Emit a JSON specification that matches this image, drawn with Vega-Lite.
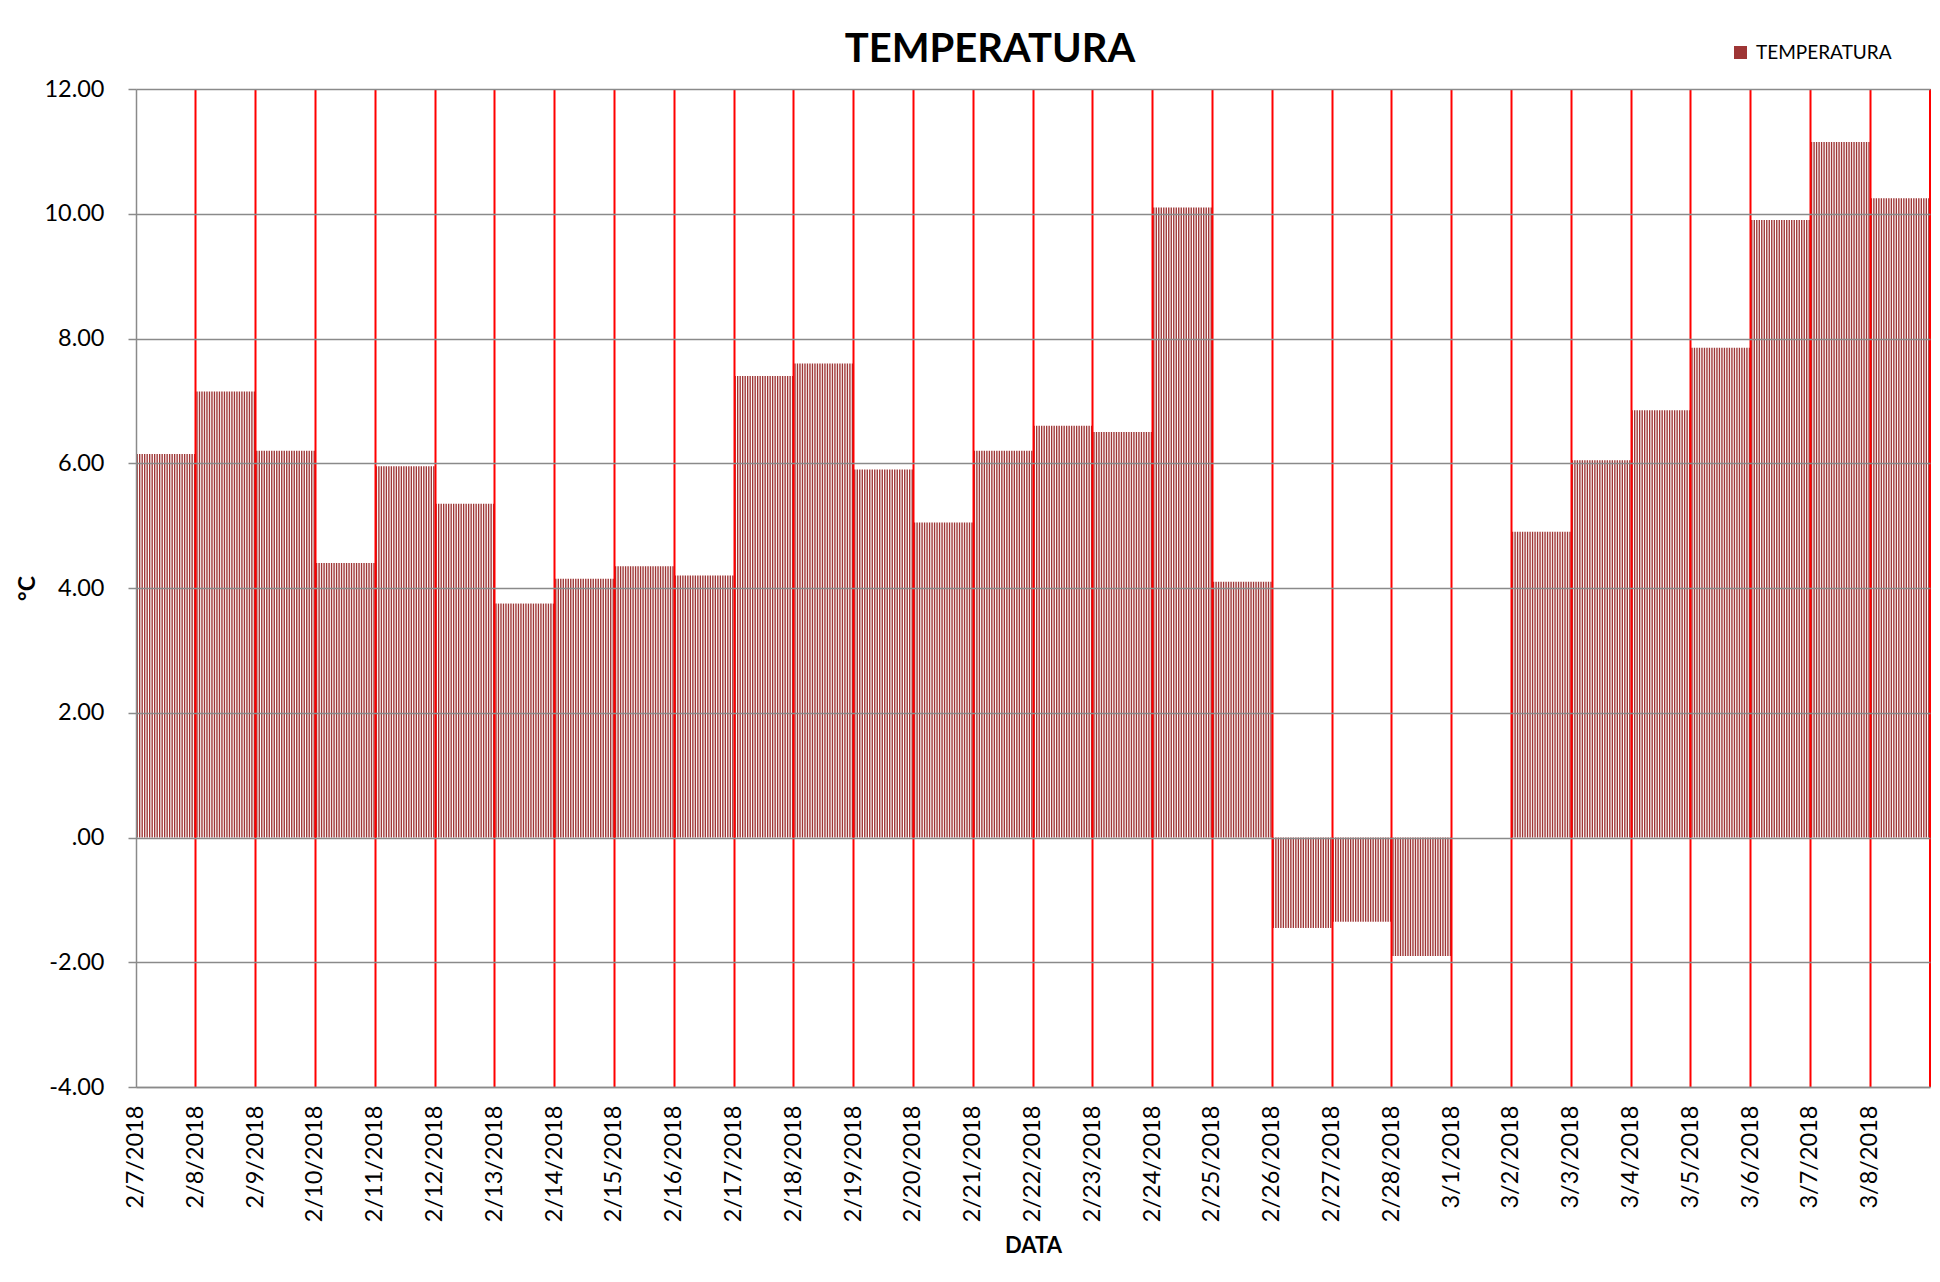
{
"$schema":"https://vega.github.io/schema/vega-lite/v6.json",
"width":1794,"height":998,
"autosize":{"type":"none"},
"padding":{"left":136,"top":89,"right":10,"bottom":195},
"background":"white",
"config":{"font":"Lato","view":{"stroke":null}},
"title":{"text":"TEMPERATURA","font":"Lato","fontSize":40,"fontWeight":"bold","color":"black","anchor":"middle","dx":-43,"offset":-27},
"layer":[
{"data":{"values":[
{"d":"2/7/2018","h":0,"t":6.15},{"d":"2/7/2018","h":1,"t":6.15},{"d":"2/7/2018","h":2,"t":6.15},{"d":"2/7/2018","h":3,"t":6.15},{"d":"2/7/2018","h":4,"t":6.15},{"d":"2/7/2018","h":5,"t":6.15},{"d":"2/7/2018","h":6,"t":6.15},{"d":"2/7/2018","h":7,"t":6.15},{"d":"2/7/2018","h":8,"t":6.15},{"d":"2/7/2018","h":9,"t":6.15},{"d":"2/7/2018","h":10,"t":6.15},{"d":"2/7/2018","h":11,"t":6.15},{"d":"2/7/2018","h":12,"t":6.15},{"d":"2/7/2018","h":13,"t":6.15},{"d":"2/7/2018","h":14,"t":6.15},{"d":"2/7/2018","h":15,"t":6.15},{"d":"2/7/2018","h":16,"t":6.15},{"d":"2/7/2018","h":17,"t":6.15},{"d":"2/7/2018","h":18,"t":6.15},{"d":"2/7/2018","h":19,"t":6.15},{"d":"2/7/2018","h":20,"t":6.15},{"d":"2/7/2018","h":21,"t":6.15},{"d":"2/7/2018","h":22,"t":6.15},{"d":"2/7/2018","h":23,"t":6.15},
{"d":"2/8/2018","h":0,"t":7.15},{"d":"2/8/2018","h":1,"t":7.15},{"d":"2/8/2018","h":2,"t":7.15},{"d":"2/8/2018","h":3,"t":7.15},{"d":"2/8/2018","h":4,"t":7.15},{"d":"2/8/2018","h":5,"t":7.15},{"d":"2/8/2018","h":6,"t":7.15},{"d":"2/8/2018","h":7,"t":7.15},{"d":"2/8/2018","h":8,"t":7.15},{"d":"2/8/2018","h":9,"t":7.15},{"d":"2/8/2018","h":10,"t":7.15},{"d":"2/8/2018","h":11,"t":7.15},{"d":"2/8/2018","h":12,"t":7.15},{"d":"2/8/2018","h":13,"t":7.15},{"d":"2/8/2018","h":14,"t":7.15},{"d":"2/8/2018","h":15,"t":7.15},{"d":"2/8/2018","h":16,"t":7.15},{"d":"2/8/2018","h":17,"t":7.15},{"d":"2/8/2018","h":18,"t":7.15},{"d":"2/8/2018","h":19,"t":7.15},{"d":"2/8/2018","h":20,"t":7.15},{"d":"2/8/2018","h":21,"t":7.15},{"d":"2/8/2018","h":22,"t":7.15},{"d":"2/8/2018","h":23,"t":7.15},
{"d":"2/9/2018","h":0,"t":6.2},{"d":"2/9/2018","h":1,"t":6.2},{"d":"2/9/2018","h":2,"t":6.2},{"d":"2/9/2018","h":3,"t":6.2},{"d":"2/9/2018","h":4,"t":6.2},{"d":"2/9/2018","h":5,"t":6.2},{"d":"2/9/2018","h":6,"t":6.2},{"d":"2/9/2018","h":7,"t":6.2},{"d":"2/9/2018","h":8,"t":6.2},{"d":"2/9/2018","h":9,"t":6.2},{"d":"2/9/2018","h":10,"t":6.2},{"d":"2/9/2018","h":11,"t":6.2},{"d":"2/9/2018","h":12,"t":6.2},{"d":"2/9/2018","h":13,"t":6.2},{"d":"2/9/2018","h":14,"t":6.2},{"d":"2/9/2018","h":15,"t":6.2},{"d":"2/9/2018","h":16,"t":6.2},{"d":"2/9/2018","h":17,"t":6.2},{"d":"2/9/2018","h":18,"t":6.2},{"d":"2/9/2018","h":19,"t":6.2},{"d":"2/9/2018","h":20,"t":6.2},{"d":"2/9/2018","h":21,"t":6.2},{"d":"2/9/2018","h":22,"t":6.2},{"d":"2/9/2018","h":23,"t":6.2},
{"d":"2/10/2018","h":0,"t":4.4},{"d":"2/10/2018","h":1,"t":4.4},{"d":"2/10/2018","h":2,"t":4.4},{"d":"2/10/2018","h":3,"t":4.4},{"d":"2/10/2018","h":4,"t":4.4},{"d":"2/10/2018","h":5,"t":4.4},{"d":"2/10/2018","h":6,"t":4.4},{"d":"2/10/2018","h":7,"t":4.4},{"d":"2/10/2018","h":8,"t":4.4},{"d":"2/10/2018","h":9,"t":4.4},{"d":"2/10/2018","h":10,"t":4.4},{"d":"2/10/2018","h":11,"t":4.4},{"d":"2/10/2018","h":12,"t":4.4},{"d":"2/10/2018","h":13,"t":4.4},{"d":"2/10/2018","h":14,"t":4.4},{"d":"2/10/2018","h":15,"t":4.4},{"d":"2/10/2018","h":16,"t":4.4},{"d":"2/10/2018","h":17,"t":4.4},{"d":"2/10/2018","h":18,"t":4.4},{"d":"2/10/2018","h":19,"t":4.4},{"d":"2/10/2018","h":20,"t":4.4},{"d":"2/10/2018","h":21,"t":4.4},{"d":"2/10/2018","h":22,"t":4.4},{"d":"2/10/2018","h":23,"t":4.4},
{"d":"2/11/2018","h":0,"t":5.95},{"d":"2/11/2018","h":1,"t":5.95},{"d":"2/11/2018","h":2,"t":5.95},{"d":"2/11/2018","h":3,"t":5.95},{"d":"2/11/2018","h":4,"t":5.95},{"d":"2/11/2018","h":5,"t":5.95},{"d":"2/11/2018","h":6,"t":5.95},{"d":"2/11/2018","h":7,"t":5.95},{"d":"2/11/2018","h":8,"t":5.95},{"d":"2/11/2018","h":9,"t":5.95},{"d":"2/11/2018","h":10,"t":5.95},{"d":"2/11/2018","h":11,"t":5.95},{"d":"2/11/2018","h":12,"t":5.95},{"d":"2/11/2018","h":13,"t":5.95},{"d":"2/11/2018","h":14,"t":5.95},{"d":"2/11/2018","h":15,"t":5.95},{"d":"2/11/2018","h":16,"t":5.95},{"d":"2/11/2018","h":17,"t":5.95},{"d":"2/11/2018","h":18,"t":5.95},{"d":"2/11/2018","h":19,"t":5.95},{"d":"2/11/2018","h":20,"t":5.95},{"d":"2/11/2018","h":21,"t":5.95},{"d":"2/11/2018","h":22,"t":5.95},{"d":"2/11/2018","h":23,"t":5.95},
{"d":"2/12/2018","h":0,"t":5.35},{"d":"2/12/2018","h":1,"t":5.35},{"d":"2/12/2018","h":2,"t":5.35},{"d":"2/12/2018","h":3,"t":5.35},{"d":"2/12/2018","h":4,"t":5.35},{"d":"2/12/2018","h":5,"t":5.35},{"d":"2/12/2018","h":6,"t":5.35},{"d":"2/12/2018","h":7,"t":5.35},{"d":"2/12/2018","h":8,"t":5.35},{"d":"2/12/2018","h":9,"t":5.35},{"d":"2/12/2018","h":10,"t":5.35},{"d":"2/12/2018","h":11,"t":5.35},{"d":"2/12/2018","h":12,"t":5.35},{"d":"2/12/2018","h":13,"t":5.35},{"d":"2/12/2018","h":14,"t":5.35},{"d":"2/12/2018","h":15,"t":5.35},{"d":"2/12/2018","h":16,"t":5.35},{"d":"2/12/2018","h":17,"t":5.35},{"d":"2/12/2018","h":18,"t":5.35},{"d":"2/12/2018","h":19,"t":5.35},{"d":"2/12/2018","h":20,"t":5.35},{"d":"2/12/2018","h":21,"t":5.35},{"d":"2/12/2018","h":22,"t":5.35},{"d":"2/12/2018","h":23,"t":5.35},
{"d":"2/13/2018","h":0,"t":3.75},{"d":"2/13/2018","h":1,"t":3.75},{"d":"2/13/2018","h":2,"t":3.75},{"d":"2/13/2018","h":3,"t":3.75},{"d":"2/13/2018","h":4,"t":3.75},{"d":"2/13/2018","h":5,"t":3.75},{"d":"2/13/2018","h":6,"t":3.75},{"d":"2/13/2018","h":7,"t":3.75},{"d":"2/13/2018","h":8,"t":3.75},{"d":"2/13/2018","h":9,"t":3.75},{"d":"2/13/2018","h":10,"t":3.75},{"d":"2/13/2018","h":11,"t":3.75},{"d":"2/13/2018","h":12,"t":3.75},{"d":"2/13/2018","h":13,"t":3.75},{"d":"2/13/2018","h":14,"t":3.75},{"d":"2/13/2018","h":15,"t":3.75},{"d":"2/13/2018","h":16,"t":3.75},{"d":"2/13/2018","h":17,"t":3.75},{"d":"2/13/2018","h":18,"t":3.75},{"d":"2/13/2018","h":19,"t":3.75},{"d":"2/13/2018","h":20,"t":3.75},{"d":"2/13/2018","h":21,"t":3.75},{"d":"2/13/2018","h":22,"t":3.75},{"d":"2/13/2018","h":23,"t":3.75},
{"d":"2/14/2018","h":0,"t":4.15},{"d":"2/14/2018","h":1,"t":4.15},{"d":"2/14/2018","h":2,"t":4.15},{"d":"2/14/2018","h":3,"t":4.15},{"d":"2/14/2018","h":4,"t":4.15},{"d":"2/14/2018","h":5,"t":4.15},{"d":"2/14/2018","h":6,"t":4.15},{"d":"2/14/2018","h":7,"t":4.15},{"d":"2/14/2018","h":8,"t":4.15},{"d":"2/14/2018","h":9,"t":4.15},{"d":"2/14/2018","h":10,"t":4.15},{"d":"2/14/2018","h":11,"t":4.15},{"d":"2/14/2018","h":12,"t":4.15},{"d":"2/14/2018","h":13,"t":4.15},{"d":"2/14/2018","h":14,"t":4.15},{"d":"2/14/2018","h":15,"t":4.15},{"d":"2/14/2018","h":16,"t":4.15},{"d":"2/14/2018","h":17,"t":4.15},{"d":"2/14/2018","h":18,"t":4.15},{"d":"2/14/2018","h":19,"t":4.15},{"d":"2/14/2018","h":20,"t":4.15},{"d":"2/14/2018","h":21,"t":4.15},{"d":"2/14/2018","h":22,"t":4.15},{"d":"2/14/2018","h":23,"t":4.15},
{"d":"2/15/2018","h":0,"t":4.35},{"d":"2/15/2018","h":1,"t":4.35},{"d":"2/15/2018","h":2,"t":4.35},{"d":"2/15/2018","h":3,"t":4.35},{"d":"2/15/2018","h":4,"t":4.35},{"d":"2/15/2018","h":5,"t":4.35},{"d":"2/15/2018","h":6,"t":4.35},{"d":"2/15/2018","h":7,"t":4.35},{"d":"2/15/2018","h":8,"t":4.35},{"d":"2/15/2018","h":9,"t":4.35},{"d":"2/15/2018","h":10,"t":4.35},{"d":"2/15/2018","h":11,"t":4.35},{"d":"2/15/2018","h":12,"t":4.35},{"d":"2/15/2018","h":13,"t":4.35},{"d":"2/15/2018","h":14,"t":4.35},{"d":"2/15/2018","h":15,"t":4.35},{"d":"2/15/2018","h":16,"t":4.35},{"d":"2/15/2018","h":17,"t":4.35},{"d":"2/15/2018","h":18,"t":4.35},{"d":"2/15/2018","h":19,"t":4.35},{"d":"2/15/2018","h":20,"t":4.35},{"d":"2/15/2018","h":21,"t":4.35},{"d":"2/15/2018","h":22,"t":4.35},{"d":"2/15/2018","h":23,"t":4.35},
{"d":"2/16/2018","h":0,"t":4.2},{"d":"2/16/2018","h":1,"t":4.2},{"d":"2/16/2018","h":2,"t":4.2},{"d":"2/16/2018","h":3,"t":4.2},{"d":"2/16/2018","h":4,"t":4.2},{"d":"2/16/2018","h":5,"t":4.2},{"d":"2/16/2018","h":6,"t":4.2},{"d":"2/16/2018","h":7,"t":4.2},{"d":"2/16/2018","h":8,"t":4.2},{"d":"2/16/2018","h":9,"t":4.2},{"d":"2/16/2018","h":10,"t":4.2},{"d":"2/16/2018","h":11,"t":4.2},{"d":"2/16/2018","h":12,"t":4.2},{"d":"2/16/2018","h":13,"t":4.2},{"d":"2/16/2018","h":14,"t":4.2},{"d":"2/16/2018","h":15,"t":4.2},{"d":"2/16/2018","h":16,"t":4.2},{"d":"2/16/2018","h":17,"t":4.2},{"d":"2/16/2018","h":18,"t":4.2},{"d":"2/16/2018","h":19,"t":4.2},{"d":"2/16/2018","h":20,"t":4.2},{"d":"2/16/2018","h":21,"t":4.2},{"d":"2/16/2018","h":22,"t":4.2},{"d":"2/16/2018","h":23,"t":4.2},
{"d":"2/17/2018","h":0,"t":7.4},{"d":"2/17/2018","h":1,"t":7.4},{"d":"2/17/2018","h":2,"t":7.4},{"d":"2/17/2018","h":3,"t":7.4},{"d":"2/17/2018","h":4,"t":7.4},{"d":"2/17/2018","h":5,"t":7.4},{"d":"2/17/2018","h":6,"t":7.4},{"d":"2/17/2018","h":7,"t":7.4},{"d":"2/17/2018","h":8,"t":7.4},{"d":"2/17/2018","h":9,"t":7.4},{"d":"2/17/2018","h":10,"t":7.4},{"d":"2/17/2018","h":11,"t":7.4},{"d":"2/17/2018","h":12,"t":7.4},{"d":"2/17/2018","h":13,"t":7.4},{"d":"2/17/2018","h":14,"t":7.4},{"d":"2/17/2018","h":15,"t":7.4},{"d":"2/17/2018","h":16,"t":7.4},{"d":"2/17/2018","h":17,"t":7.4},{"d":"2/17/2018","h":18,"t":7.4},{"d":"2/17/2018","h":19,"t":7.4},{"d":"2/17/2018","h":20,"t":7.4},{"d":"2/17/2018","h":21,"t":7.4},{"d":"2/17/2018","h":22,"t":7.4},{"d":"2/17/2018","h":23,"t":7.4},
{"d":"2/18/2018","h":0,"t":7.6},{"d":"2/18/2018","h":1,"t":7.6},{"d":"2/18/2018","h":2,"t":7.6},{"d":"2/18/2018","h":3,"t":7.6},{"d":"2/18/2018","h":4,"t":7.6},{"d":"2/18/2018","h":5,"t":7.6},{"d":"2/18/2018","h":6,"t":7.6},{"d":"2/18/2018","h":7,"t":7.6},{"d":"2/18/2018","h":8,"t":7.6},{"d":"2/18/2018","h":9,"t":7.6},{"d":"2/18/2018","h":10,"t":7.6},{"d":"2/18/2018","h":11,"t":7.6},{"d":"2/18/2018","h":12,"t":7.6},{"d":"2/18/2018","h":13,"t":7.6},{"d":"2/18/2018","h":14,"t":7.6},{"d":"2/18/2018","h":15,"t":7.6},{"d":"2/18/2018","h":16,"t":7.6},{"d":"2/18/2018","h":17,"t":7.6},{"d":"2/18/2018","h":18,"t":7.6},{"d":"2/18/2018","h":19,"t":7.6},{"d":"2/18/2018","h":20,"t":7.6},{"d":"2/18/2018","h":21,"t":7.6},{"d":"2/18/2018","h":22,"t":7.6},{"d":"2/18/2018","h":23,"t":7.6},
{"d":"2/19/2018","h":0,"t":5.9},{"d":"2/19/2018","h":1,"t":5.9},{"d":"2/19/2018","h":2,"t":5.9},{"d":"2/19/2018","h":3,"t":5.9},{"d":"2/19/2018","h":4,"t":5.9},{"d":"2/19/2018","h":5,"t":5.9},{"d":"2/19/2018","h":6,"t":5.9},{"d":"2/19/2018","h":7,"t":5.9},{"d":"2/19/2018","h":8,"t":5.9},{"d":"2/19/2018","h":9,"t":5.9},{"d":"2/19/2018","h":10,"t":5.9},{"d":"2/19/2018","h":11,"t":5.9},{"d":"2/19/2018","h":12,"t":5.9},{"d":"2/19/2018","h":13,"t":5.9},{"d":"2/19/2018","h":14,"t":5.9},{"d":"2/19/2018","h":15,"t":5.9},{"d":"2/19/2018","h":16,"t":5.9},{"d":"2/19/2018","h":17,"t":5.9},{"d":"2/19/2018","h":18,"t":5.9},{"d":"2/19/2018","h":19,"t":5.9},{"d":"2/19/2018","h":20,"t":5.9},{"d":"2/19/2018","h":21,"t":5.9},{"d":"2/19/2018","h":22,"t":5.9},{"d":"2/19/2018","h":23,"t":5.9},
{"d":"2/20/2018","h":0,"t":5.05},{"d":"2/20/2018","h":1,"t":5.05},{"d":"2/20/2018","h":2,"t":5.05},{"d":"2/20/2018","h":3,"t":5.05},{"d":"2/20/2018","h":4,"t":5.05},{"d":"2/20/2018","h":5,"t":5.05},{"d":"2/20/2018","h":6,"t":5.05},{"d":"2/20/2018","h":7,"t":5.05},{"d":"2/20/2018","h":8,"t":5.05},{"d":"2/20/2018","h":9,"t":5.05},{"d":"2/20/2018","h":10,"t":5.05},{"d":"2/20/2018","h":11,"t":5.05},{"d":"2/20/2018","h":12,"t":5.05},{"d":"2/20/2018","h":13,"t":5.05},{"d":"2/20/2018","h":14,"t":5.05},{"d":"2/20/2018","h":15,"t":5.05},{"d":"2/20/2018","h":16,"t":5.05},{"d":"2/20/2018","h":17,"t":5.05},{"d":"2/20/2018","h":18,"t":5.05},{"d":"2/20/2018","h":19,"t":5.05},{"d":"2/20/2018","h":20,"t":5.05},{"d":"2/20/2018","h":21,"t":5.05},{"d":"2/20/2018","h":22,"t":5.05},{"d":"2/20/2018","h":23,"t":5.05},
{"d":"2/21/2018","h":0,"t":6.2},{"d":"2/21/2018","h":1,"t":6.2},{"d":"2/21/2018","h":2,"t":6.2},{"d":"2/21/2018","h":3,"t":6.2},{"d":"2/21/2018","h":4,"t":6.2},{"d":"2/21/2018","h":5,"t":6.2},{"d":"2/21/2018","h":6,"t":6.2},{"d":"2/21/2018","h":7,"t":6.2},{"d":"2/21/2018","h":8,"t":6.2},{"d":"2/21/2018","h":9,"t":6.2},{"d":"2/21/2018","h":10,"t":6.2},{"d":"2/21/2018","h":11,"t":6.2},{"d":"2/21/2018","h":12,"t":6.2},{"d":"2/21/2018","h":13,"t":6.2},{"d":"2/21/2018","h":14,"t":6.2},{"d":"2/21/2018","h":15,"t":6.2},{"d":"2/21/2018","h":16,"t":6.2},{"d":"2/21/2018","h":17,"t":6.2},{"d":"2/21/2018","h":18,"t":6.2},{"d":"2/21/2018","h":19,"t":6.2},{"d":"2/21/2018","h":20,"t":6.2},{"d":"2/21/2018","h":21,"t":6.2},{"d":"2/21/2018","h":22,"t":6.2},{"d":"2/21/2018","h":23,"t":6.2},
{"d":"2/22/2018","h":0,"t":6.6},{"d":"2/22/2018","h":1,"t":6.6},{"d":"2/22/2018","h":2,"t":6.6},{"d":"2/22/2018","h":3,"t":6.6},{"d":"2/22/2018","h":4,"t":6.6},{"d":"2/22/2018","h":5,"t":6.6},{"d":"2/22/2018","h":6,"t":6.6},{"d":"2/22/2018","h":7,"t":6.6},{"d":"2/22/2018","h":8,"t":6.6},{"d":"2/22/2018","h":9,"t":6.6},{"d":"2/22/2018","h":10,"t":6.6},{"d":"2/22/2018","h":11,"t":6.6},{"d":"2/22/2018","h":12,"t":6.6},{"d":"2/22/2018","h":13,"t":6.6},{"d":"2/22/2018","h":14,"t":6.6},{"d":"2/22/2018","h":15,"t":6.6},{"d":"2/22/2018","h":16,"t":6.6},{"d":"2/22/2018","h":17,"t":6.6},{"d":"2/22/2018","h":18,"t":6.6},{"d":"2/22/2018","h":19,"t":6.6},{"d":"2/22/2018","h":20,"t":6.6},{"d":"2/22/2018","h":21,"t":6.6},{"d":"2/22/2018","h":22,"t":6.6},{"d":"2/22/2018","h":23,"t":6.6},
{"d":"2/23/2018","h":0,"t":6.5},{"d":"2/23/2018","h":1,"t":6.5},{"d":"2/23/2018","h":2,"t":6.5},{"d":"2/23/2018","h":3,"t":6.5},{"d":"2/23/2018","h":4,"t":6.5},{"d":"2/23/2018","h":5,"t":6.5},{"d":"2/23/2018","h":6,"t":6.5},{"d":"2/23/2018","h":7,"t":6.5},{"d":"2/23/2018","h":8,"t":6.5},{"d":"2/23/2018","h":9,"t":6.5},{"d":"2/23/2018","h":10,"t":6.5},{"d":"2/23/2018","h":11,"t":6.5},{"d":"2/23/2018","h":12,"t":6.5},{"d":"2/23/2018","h":13,"t":6.5},{"d":"2/23/2018","h":14,"t":6.5},{"d":"2/23/2018","h":15,"t":6.5},{"d":"2/23/2018","h":16,"t":6.5},{"d":"2/23/2018","h":17,"t":6.5},{"d":"2/23/2018","h":18,"t":6.5},{"d":"2/23/2018","h":19,"t":6.5},{"d":"2/23/2018","h":20,"t":6.5},{"d":"2/23/2018","h":21,"t":6.5},{"d":"2/23/2018","h":22,"t":6.5},{"d":"2/23/2018","h":23,"t":6.5},
{"d":"2/24/2018","h":0,"t":10.1},{"d":"2/24/2018","h":1,"t":10.1},{"d":"2/24/2018","h":2,"t":10.1},{"d":"2/24/2018","h":3,"t":10.1},{"d":"2/24/2018","h":4,"t":10.1},{"d":"2/24/2018","h":5,"t":10.1},{"d":"2/24/2018","h":6,"t":10.1},{"d":"2/24/2018","h":7,"t":10.1},{"d":"2/24/2018","h":8,"t":10.1},{"d":"2/24/2018","h":9,"t":10.1},{"d":"2/24/2018","h":10,"t":10.1},{"d":"2/24/2018","h":11,"t":10.1},{"d":"2/24/2018","h":12,"t":10.1},{"d":"2/24/2018","h":13,"t":10.1},{"d":"2/24/2018","h":14,"t":10.1},{"d":"2/24/2018","h":15,"t":10.1},{"d":"2/24/2018","h":16,"t":10.1},{"d":"2/24/2018","h":17,"t":10.1},{"d":"2/24/2018","h":18,"t":10.1},{"d":"2/24/2018","h":19,"t":10.1},{"d":"2/24/2018","h":20,"t":10.1},{"d":"2/24/2018","h":21,"t":10.1},{"d":"2/24/2018","h":22,"t":10.1},{"d":"2/24/2018","h":23,"t":10.1},
{"d":"2/25/2018","h":0,"t":4.1},{"d":"2/25/2018","h":1,"t":4.1},{"d":"2/25/2018","h":2,"t":4.1},{"d":"2/25/2018","h":3,"t":4.1},{"d":"2/25/2018","h":4,"t":4.1},{"d":"2/25/2018","h":5,"t":4.1},{"d":"2/25/2018","h":6,"t":4.1},{"d":"2/25/2018","h":7,"t":4.1},{"d":"2/25/2018","h":8,"t":4.1},{"d":"2/25/2018","h":9,"t":4.1},{"d":"2/25/2018","h":10,"t":4.1},{"d":"2/25/2018","h":11,"t":4.1},{"d":"2/25/2018","h":12,"t":4.1},{"d":"2/25/2018","h":13,"t":4.1},{"d":"2/25/2018","h":14,"t":4.1},{"d":"2/25/2018","h":15,"t":4.1},{"d":"2/25/2018","h":16,"t":4.1},{"d":"2/25/2018","h":17,"t":4.1},{"d":"2/25/2018","h":18,"t":4.1},{"d":"2/25/2018","h":19,"t":4.1},{"d":"2/25/2018","h":20,"t":4.1},{"d":"2/25/2018","h":21,"t":4.1},{"d":"2/25/2018","h":22,"t":4.1},{"d":"2/25/2018","h":23,"t":4.1},
{"d":"2/26/2018","h":0,"t":-1.45},{"d":"2/26/2018","h":1,"t":-1.45},{"d":"2/26/2018","h":2,"t":-1.45},{"d":"2/26/2018","h":3,"t":-1.45},{"d":"2/26/2018","h":4,"t":-1.45},{"d":"2/26/2018","h":5,"t":-1.45},{"d":"2/26/2018","h":6,"t":-1.45},{"d":"2/26/2018","h":7,"t":-1.45},{"d":"2/26/2018","h":8,"t":-1.45},{"d":"2/26/2018","h":9,"t":-1.45},{"d":"2/26/2018","h":10,"t":-1.45},{"d":"2/26/2018","h":11,"t":-1.45},{"d":"2/26/2018","h":12,"t":-1.45},{"d":"2/26/2018","h":13,"t":-1.45},{"d":"2/26/2018","h":14,"t":-1.45},{"d":"2/26/2018","h":15,"t":-1.45},{"d":"2/26/2018","h":16,"t":-1.45},{"d":"2/26/2018","h":17,"t":-1.45},{"d":"2/26/2018","h":18,"t":-1.45},{"d":"2/26/2018","h":19,"t":-1.45},{"d":"2/26/2018","h":20,"t":-1.45},{"d":"2/26/2018","h":21,"t":-1.45},{"d":"2/26/2018","h":22,"t":-1.45},{"d":"2/26/2018","h":23,"t":-1.45},
{"d":"2/27/2018","h":0,"t":-1.35},{"d":"2/27/2018","h":1,"t":-1.35},{"d":"2/27/2018","h":2,"t":-1.35},{"d":"2/27/2018","h":3,"t":-1.35},{"d":"2/27/2018","h":4,"t":-1.35},{"d":"2/27/2018","h":5,"t":-1.35},{"d":"2/27/2018","h":6,"t":-1.35},{"d":"2/27/2018","h":7,"t":-1.35},{"d":"2/27/2018","h":8,"t":-1.35},{"d":"2/27/2018","h":9,"t":-1.35},{"d":"2/27/2018","h":10,"t":-1.35},{"d":"2/27/2018","h":11,"t":-1.35},{"d":"2/27/2018","h":12,"t":-1.35},{"d":"2/27/2018","h":13,"t":-1.35},{"d":"2/27/2018","h":14,"t":-1.35},{"d":"2/27/2018","h":15,"t":-1.35},{"d":"2/27/2018","h":16,"t":-1.35},{"d":"2/27/2018","h":17,"t":-1.35},{"d":"2/27/2018","h":18,"t":-1.35},{"d":"2/27/2018","h":19,"t":-1.35},{"d":"2/27/2018","h":20,"t":-1.35},{"d":"2/27/2018","h":21,"t":-1.35},{"d":"2/27/2018","h":22,"t":-1.35},{"d":"2/27/2018","h":23,"t":-1.35},
{"d":"2/28/2018","h":0,"t":-1.9},{"d":"2/28/2018","h":1,"t":-1.9},{"d":"2/28/2018","h":2,"t":-1.9},{"d":"2/28/2018","h":3,"t":-1.9},{"d":"2/28/2018","h":4,"t":-1.9},{"d":"2/28/2018","h":5,"t":-1.9},{"d":"2/28/2018","h":6,"t":-1.9},{"d":"2/28/2018","h":7,"t":-1.9},{"d":"2/28/2018","h":8,"t":-1.9},{"d":"2/28/2018","h":9,"t":-1.9},{"d":"2/28/2018","h":10,"t":-1.9},{"d":"2/28/2018","h":11,"t":-1.9},{"d":"2/28/2018","h":12,"t":-1.9},{"d":"2/28/2018","h":13,"t":-1.9},{"d":"2/28/2018","h":14,"t":-1.9},{"d":"2/28/2018","h":15,"t":-1.9},{"d":"2/28/2018","h":16,"t":-1.9},{"d":"2/28/2018","h":17,"t":-1.9},{"d":"2/28/2018","h":18,"t":-1.9},{"d":"2/28/2018","h":19,"t":-1.9},{"d":"2/28/2018","h":20,"t":-1.9},{"d":"2/28/2018","h":21,"t":-1.9},{"d":"2/28/2018","h":22,"t":-1.9},{"d":"2/28/2018","h":23,"t":-1.9},
{"d":"3/2/2018","h":0,"t":4.9},{"d":"3/2/2018","h":1,"t":4.9},{"d":"3/2/2018","h":2,"t":4.9},{"d":"3/2/2018","h":3,"t":4.9},{"d":"3/2/2018","h":4,"t":4.9},{"d":"3/2/2018","h":5,"t":4.9},{"d":"3/2/2018","h":6,"t":4.9},{"d":"3/2/2018","h":7,"t":4.9},{"d":"3/2/2018","h":8,"t":4.9},{"d":"3/2/2018","h":9,"t":4.9},{"d":"3/2/2018","h":10,"t":4.9},{"d":"3/2/2018","h":11,"t":4.9},{"d":"3/2/2018","h":12,"t":4.9},{"d":"3/2/2018","h":13,"t":4.9},{"d":"3/2/2018","h":14,"t":4.9},{"d":"3/2/2018","h":15,"t":4.9},{"d":"3/2/2018","h":16,"t":4.9},{"d":"3/2/2018","h":17,"t":4.9},{"d":"3/2/2018","h":18,"t":4.9},{"d":"3/2/2018","h":19,"t":4.9},{"d":"3/2/2018","h":20,"t":4.9},{"d":"3/2/2018","h":21,"t":4.9},{"d":"3/2/2018","h":22,"t":4.9},{"d":"3/2/2018","h":23,"t":4.9},
{"d":"3/3/2018","h":0,"t":6.05},{"d":"3/3/2018","h":1,"t":6.05},{"d":"3/3/2018","h":2,"t":6.05},{"d":"3/3/2018","h":3,"t":6.05},{"d":"3/3/2018","h":4,"t":6.05},{"d":"3/3/2018","h":5,"t":6.05},{"d":"3/3/2018","h":6,"t":6.05},{"d":"3/3/2018","h":7,"t":6.05},{"d":"3/3/2018","h":8,"t":6.05},{"d":"3/3/2018","h":9,"t":6.05},{"d":"3/3/2018","h":10,"t":6.05},{"d":"3/3/2018","h":11,"t":6.05},{"d":"3/3/2018","h":12,"t":6.05},{"d":"3/3/2018","h":13,"t":6.05},{"d":"3/3/2018","h":14,"t":6.05},{"d":"3/3/2018","h":15,"t":6.05},{"d":"3/3/2018","h":16,"t":6.05},{"d":"3/3/2018","h":17,"t":6.05},{"d":"3/3/2018","h":18,"t":6.05},{"d":"3/3/2018","h":19,"t":6.05},{"d":"3/3/2018","h":20,"t":6.05},{"d":"3/3/2018","h":21,"t":6.05},{"d":"3/3/2018","h":22,"t":6.05},{"d":"3/3/2018","h":23,"t":6.05},
{"d":"3/4/2018","h":0,"t":6.85},{"d":"3/4/2018","h":1,"t":6.85},{"d":"3/4/2018","h":2,"t":6.85},{"d":"3/4/2018","h":3,"t":6.85},{"d":"3/4/2018","h":4,"t":6.85},{"d":"3/4/2018","h":5,"t":6.85},{"d":"3/4/2018","h":6,"t":6.85},{"d":"3/4/2018","h":7,"t":6.85},{"d":"3/4/2018","h":8,"t":6.85},{"d":"3/4/2018","h":9,"t":6.85},{"d":"3/4/2018","h":10,"t":6.85},{"d":"3/4/2018","h":11,"t":6.85},{"d":"3/4/2018","h":12,"t":6.85},{"d":"3/4/2018","h":13,"t":6.85},{"d":"3/4/2018","h":14,"t":6.85},{"d":"3/4/2018","h":15,"t":6.85},{"d":"3/4/2018","h":16,"t":6.85},{"d":"3/4/2018","h":17,"t":6.85},{"d":"3/4/2018","h":18,"t":6.85},{"d":"3/4/2018","h":19,"t":6.85},{"d":"3/4/2018","h":20,"t":6.85},{"d":"3/4/2018","h":21,"t":6.85},{"d":"3/4/2018","h":22,"t":6.85},{"d":"3/4/2018","h":23,"t":6.85},
{"d":"3/5/2018","h":0,"t":7.85},{"d":"3/5/2018","h":1,"t":7.85},{"d":"3/5/2018","h":2,"t":7.85},{"d":"3/5/2018","h":3,"t":7.85},{"d":"3/5/2018","h":4,"t":7.85},{"d":"3/5/2018","h":5,"t":7.85},{"d":"3/5/2018","h":6,"t":7.85},{"d":"3/5/2018","h":7,"t":7.85},{"d":"3/5/2018","h":8,"t":7.85},{"d":"3/5/2018","h":9,"t":7.85},{"d":"3/5/2018","h":10,"t":7.85},{"d":"3/5/2018","h":11,"t":7.85},{"d":"3/5/2018","h":12,"t":7.85},{"d":"3/5/2018","h":13,"t":7.85},{"d":"3/5/2018","h":14,"t":7.85},{"d":"3/5/2018","h":15,"t":7.85},{"d":"3/5/2018","h":16,"t":7.85},{"d":"3/5/2018","h":17,"t":7.85},{"d":"3/5/2018","h":18,"t":7.85},{"d":"3/5/2018","h":19,"t":7.85},{"d":"3/5/2018","h":20,"t":7.85},{"d":"3/5/2018","h":21,"t":7.85},{"d":"3/5/2018","h":22,"t":7.85},{"d":"3/5/2018","h":23,"t":7.85},
{"d":"3/6/2018","h":0,"t":9.9},{"d":"3/6/2018","h":1,"t":9.9},{"d":"3/6/2018","h":2,"t":9.9},{"d":"3/6/2018","h":3,"t":9.9},{"d":"3/6/2018","h":4,"t":9.9},{"d":"3/6/2018","h":5,"t":9.9},{"d":"3/6/2018","h":6,"t":9.9},{"d":"3/6/2018","h":7,"t":9.9},{"d":"3/6/2018","h":8,"t":9.9},{"d":"3/6/2018","h":9,"t":9.9},{"d":"3/6/2018","h":10,"t":9.9},{"d":"3/6/2018","h":11,"t":9.9},{"d":"3/6/2018","h":12,"t":9.9},{"d":"3/6/2018","h":13,"t":9.9},{"d":"3/6/2018","h":14,"t":9.9},{"d":"3/6/2018","h":15,"t":9.9},{"d":"3/6/2018","h":16,"t":9.9},{"d":"3/6/2018","h":17,"t":9.9},{"d":"3/6/2018","h":18,"t":9.9},{"d":"3/6/2018","h":19,"t":9.9},{"d":"3/6/2018","h":20,"t":9.9},{"d":"3/6/2018","h":21,"t":9.9},{"d":"3/6/2018","h":22,"t":9.9},{"d":"3/6/2018","h":23,"t":9.9},
{"d":"3/7/2018","h":0,"t":11.15},{"d":"3/7/2018","h":1,"t":11.15},{"d":"3/7/2018","h":2,"t":11.15},{"d":"3/7/2018","h":3,"t":11.15},{"d":"3/7/2018","h":4,"t":11.15},{"d":"3/7/2018","h":5,"t":11.15},{"d":"3/7/2018","h":6,"t":11.15},{"d":"3/7/2018","h":7,"t":11.15},{"d":"3/7/2018","h":8,"t":11.15},{"d":"3/7/2018","h":9,"t":11.15},{"d":"3/7/2018","h":10,"t":11.15},{"d":"3/7/2018","h":11,"t":11.15},{"d":"3/7/2018","h":12,"t":11.15},{"d":"3/7/2018","h":13,"t":11.15},{"d":"3/7/2018","h":14,"t":11.15},{"d":"3/7/2018","h":15,"t":11.15},{"d":"3/7/2018","h":16,"t":11.15},{"d":"3/7/2018","h":17,"t":11.15},{"d":"3/7/2018","h":18,"t":11.15},{"d":"3/7/2018","h":19,"t":11.15},{"d":"3/7/2018","h":20,"t":11.15},{"d":"3/7/2018","h":21,"t":11.15},{"d":"3/7/2018","h":22,"t":11.15},{"d":"3/7/2018","h":23,"t":11.15},
{"d":"3/8/2018","h":0,"t":10.25},{"d":"3/8/2018","h":1,"t":10.25},{"d":"3/8/2018","h":2,"t":10.25},{"d":"3/8/2018","h":3,"t":10.25},{"d":"3/8/2018","h":4,"t":10.25},{"d":"3/8/2018","h":5,"t":10.25},{"d":"3/8/2018","h":6,"t":10.25},{"d":"3/8/2018","h":7,"t":10.25},{"d":"3/8/2018","h":8,"t":10.25},{"d":"3/8/2018","h":9,"t":10.25},{"d":"3/8/2018","h":10,"t":10.25},{"d":"3/8/2018","h":11,"t":10.25},{"d":"3/8/2018","h":12,"t":10.25},{"d":"3/8/2018","h":13,"t":10.25},{"d":"3/8/2018","h":14,"t":10.25},{"d":"3/8/2018","h":15,"t":10.25},{"d":"3/8/2018","h":16,"t":10.25},{"d":"3/8/2018","h":17,"t":10.25},{"d":"3/8/2018","h":18,"t":10.25},{"d":"3/8/2018","h":19,"t":10.25},{"d":"3/8/2018","h":20,"t":10.25},{"d":"3/8/2018","h":21,"t":10.25},{"d":"3/8/2018","h":22,"t":10.25},{"d":"3/8/2018","h":23,"t":10.25}
]},
"mark":{"type":"bar"},
"encoding":{
"x":{"field":"d","type":"ordinal","sort":null,
 "scale":{"domain":["2/7/2018","2/8/2018","2/9/2018","2/10/2018","2/11/2018","2/12/2018","2/13/2018","2/14/2018","2/15/2018","2/16/2018","2/17/2018","2/18/2018","2/19/2018","2/20/2018","2/21/2018","2/22/2018","2/23/2018","2/24/2018","2/25/2018","2/26/2018","2/27/2018","2/28/2018","3/1/2018","3/2/2018","3/3/2018","3/4/2018","3/5/2018","3/6/2018","3/7/2018","3/8/2018"],"paddingInner":0,"paddingOuter":0},
 "axis":{"bandPosition":0,"grid":true,"gridColor":"#FF0000","gridWidth":2,"gridOpacity":{"condition":{"test":"datum.value==='2/7/2018'","value":0},"value":1},"ticks":false,"domain":true,"domainColor":"#8a8a8a","domainWidth":1.5,"labelAngle":270,"labelFont":"Lato","labelFontSize":23.5,"labelColor":"black","labelPadding":18,"labelOffset":-30,"title":"DATA","titleFont":"Lato","titleFontSize":22,"titleFontWeight":"bold","titleColor":"black","titleY":158,"titleBaseline":"middle","zindex":1}},
"xOffset":{"field":"h","type":"ordinal","scale":{"paddingInner":0.45,"paddingOuter":0.2}},
"y":{"field":"t","type":"quantitative","scale":{"domain":[-4,12],"nice":false,"zero":false},
 "axis":{"values":[-4,-2,0,2,4,6,8,10,12],"labelExpr":"datum.value==0?'.00':replace(format(datum.value,'.2f'),'−','-')","labelFont":"Lato","labelFontSize":23.5,"labelColor":"black","labelPadding":24,"tickSize":8,"tickColor":"#8a8a8a","tickWidth":1.5,"domainColor":"#8a8a8a","domainWidth":1.5,"grid":true,"gridColor":"#8a8a8a","gridWidth":1.5,"title":"°C","titleFont":"Lato","titleFontSize":23,"titleFontWeight":"bold","titleColor":"black","titleX":-109,"titleY":499,"titleAlign":"center","titleBaseline":"middle","titleAngle":270,"zindex":2}},
"color":{"datum":"TEMPERATURA","scale":{"range":["#9E3535"]},
 "legend":{"orient":"none","legendX":1595,"legendY":-46,"title":null,"symbolType":"square","symbolSize":169,"symbolStrokeWidth":0,"labelFont":"Lato","labelFontSize":19,"labelColor":"black","labelOffset":6}}
}},
{"data":{"values":[{"d":"3/8/2018"}]},
"mark":{"type":"rule","color":"#FF0000","strokeWidth":2},
"encoding":{"x":{"field":"d","type":"ordinal","bandPosition":1}}}
]
}
